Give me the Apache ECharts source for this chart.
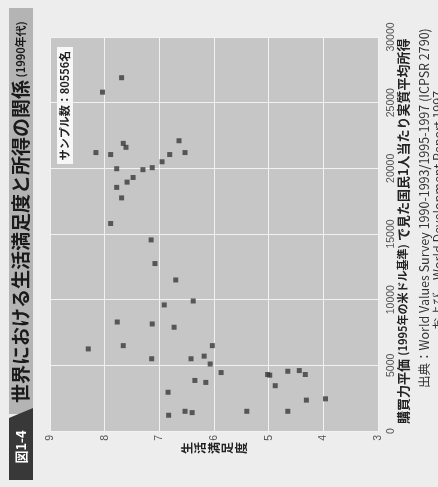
<!DOCTYPE html>
<html>
<head>
<meta charset="utf-8">
<script src="https://cdn.jsdelivr.net/npm/echarts@6/dist/echarts.min.js"></script>
<style>
  html, body { margin: 0; padding: 0; background: #ededed; }
  #chart { width: 438px; height: 487px; }
</style>
</head>
<body>
<div id="chart"></div>
<script>
// 生活満足度 (x) と 1人当たり所得 (y)
const satisfaction = [
  7.69, 8.04, 7.66, 7.61, 6.64, 8.16, 7.89, 6.53, 6.81, 6.95,
  7.78, 7.30, 7.13, 7.48, 7.59, 7.78, 7.69, 7.89, 7.15, 7.08,
  6.70, 6.38, 6.91, 7.77, 7.13, 6.73, 7.66, 8.30, 6.03, 7.14,
  6.42, 6.18, 6.07, 5.87, 6.35, 6.15, 6.84, 6.83, 6.53, 6.40,
  5.40, 5.02, 4.98, 4.65, 4.44, 4.33, 4.88, 4.31, 3.96, 4.65
];
const income = [
  26900, 25800, 21900, 21600, 22100, 21200, 21050, 21200, 21050, 20500,
  19970, 19900, 20050, 19300, 18950, 18550, 17750, 15800, 14550, 12750,
  11500, 9900, 9600, 8300, 8150, 7900, 6500, 6250, 6500, 5500,
  5500, 5700, 5100, 4450, 3850, 3700, 2950, 1200, 1500, 1400,
  1500, 4300, 4250, 4550, 4600, 4300, 3450, 2350, 2450, 1500
];
const satTicks = [3, 9];
const incomeTicks = [0, 30000];

const titleMain = '世界における生活満足度と所得の関係';
const titleSub = '(1990年代)';
const sampleNote = 'サンプル数：80556名';
const xName = '生活満足度';
const yNameParts = ['購買力平価', '(1995年の米ドル基準)', 'で見た国民1人当たり実質平均所得'];
const source1 = '出典：World Values Survey 1990-1993/1995-1997 (ICPSR 2790)';
const source2 = 'および、World Development Report 1997.';

const jp = '"Noto Sans CJK JP", "Liberation Sans", sans-serif';
const R = Math.PI / 2;

var chart = echarts.init(document.getElementById('chart'));

const option = {
  backgroundColor: '#ededed',
  animation: false,
  textStyle: { fontFamily: jp },
  grid: {
    left: 50, right: 60, top: 37, bottom: 56,
    show: true, backgroundColor: '#c6c6c6', borderWidth: 0
  },
  xAxis: {
    type: 'value',
    min: satTicks[0], max: satTicks[1], interval: 1,
    inverse: true,
    position: 'bottom',
    axisLine: { show: false },
    axisTick: { show: false },
    axisLabel: { rotate: 90, margin: 4, color: '#555', fontSize: 10.5, fontFamily: 'Liberation Sans' },
    splitLine: { lineStyle: { color: '#f2f2f2', width: 1 } }
  },
  yAxis: {
    type: 'value',
    min: incomeTicks[0], max: incomeTicks[1], interval: 5000,
    position: 'right',
    axisLine: { show: false },
    axisTick: { show: false },
    axisLabel: {
      rotate: 90, margin: 8, color: '#555', fontSize: 10.5, fontFamily: 'Liberation Sans',
      formatter: v => String(v)
    },
    splitLine: { lineStyle: { color: '#f2f2f2', width: 1 } }
  },
  series: [{
    type: 'scatter',
    symbol: 'rect',
    symbolSize: 5,
    itemStyle: { color: '#3a3a3a' },
    data: satisfaction.map((s, i) => [s, income[i]])
  }],
  graphic: [
    // title bar
    { type: 'rect', shape: { x: 9, y: 8, width: 24, height: 406 }, style: { fill: '#b4b4b4' } },
    { type: 'polygon', shape: { points: [[9, 418], [33, 408], [33, 480], [9, 480]] }, style: { fill: '#383838' } },
    {
      type: 'text', x: 21, y: 447, rotation: R,
      style: { text: '図1-4', fill: '#fff', font: 'bold 13px ' + jp, textAlign: 'center', textVerticalAlign: 'middle' }
    },
    {
      type: 'text', x: 21, y: 403, rotation: R,
      style: {
        text: '{a|' + titleMain + '}{b| ' + titleSub + '}',
        textAlign: 'left', textVerticalAlign: 'middle',
        rich: {
          a: { font: 'bold 19px ' + jp, fill: '#1a1a1a' },
          b: { font: 'bold 11px ' + jp, fill: '#1a1a1a' }
        }
      }
    },
    // sample size box
    { type: 'rect', shape: { x: 57, y: 47, width: 16, height: 117 }, style: { fill: '#f7f7f7' } },
    {
      type: 'text', x: 65, y: 105.5, rotation: R,
      style: { text: sampleNote, font: 'bold 11px ' + jp, fill: '#222', textAlign: 'center', textVerticalAlign: 'middle' }
    },
    // axis names
    {
      type: 'text', x: 214, y: 448, rotation: R,
      style: {
        text: xName.split('').join('\n'), font: 'bold 12px ' + jp, lineHeight: 13.5,
        fill: '#222', textAlign: 'center', textVerticalAlign: 'middle'
      }
    },
    {
      type: 'text', x: 403, y: 424, rotation: R,
      style: {
        text: '{a|' + yNameParts[0] + '} {b|' + yNameParts[1] + '} {a|' + yNameParts[2] + '}',
        textAlign: 'left', textVerticalAlign: 'middle',
        rich: {
          a: { font: 'bold 13px ' + jp, fill: '#222' },
          b: { font: 'bold 11px ' + jp, fill: '#222' }
        }
      }
    },
    // source
    {
      type: 'text', x: 424, y: 388, rotation: R,
      style: { text: source1, font: '12.5px ' + jp, fill: '#333', textAlign: 'left', textVerticalAlign: 'middle' }
    },
    {
      type: 'text', x: 438, y: 330, rotation: R,
      style: { text: source2, font: '12.5px ' + jp, fill: '#333', textAlign: 'left', textVerticalAlign: 'middle' }
    }
  ]
};

chart.setOption(option);
</script>
</body>
</html>
